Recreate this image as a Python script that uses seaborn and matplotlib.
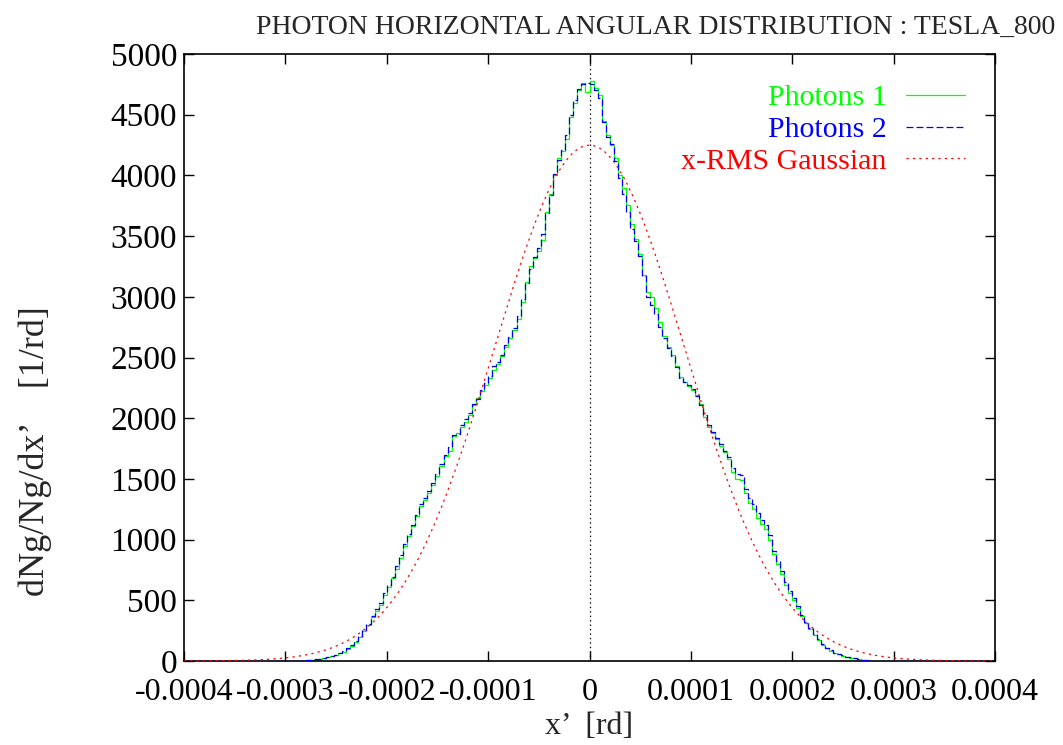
import numpy as np
import pandas as pd
import seaborn as sns
import matplotlib
matplotlib.use("Agg")
import matplotlib.pyplot as plt

# ---- data -------------------------------------------------------------
bin_width = 4e-6          # histogram bin width [rd]
x_min, x_max = -0.0004, 0.0004
n_tail = 25               # empty bins on each side, |x'| > 0.0003

# photon density per bin, bins from -0.0003 to 0.0003 (150 bins)
photons1 = [
    0, 0, 1, 2, 3, 5, 8, 12, 18, 24,
    30, 40, 49, 62, 78, 100, 125, 160, 200, 245,
    295, 360, 410, 460, 540, 610, 680, 760, 850, 945,
    1030, 1110, 1195, 1280, 1330, 1385, 1450, 1520, 1610, 1690,
    1730, 1850, 1880, 1925, 1970, 2030, 2110, 2170, 2220, 2270,
    2330, 2400, 2450, 2510, 2590, 2660, 2730, 2820, 2960, 3120,
    3250, 3320, 3380, 3470, 3700, 3850, 4000, 4140, 4200, 4300,
    4480, 4600, 4700, 4760, 4690,
    4780, 4720, 4660, 4450, 4330, 4250, 4140, 4000, 3900, 3760,
    3600, 3480, 3350, 3180, 3040, 3000, 2910, 2790, 2680, 2590,
    2520, 2430, 2340, 2300, 2265, 2235, 2190, 2120, 2010, 1930,
    1880, 1830, 1770, 1720, 1660, 1560, 1500, 1490, 1380, 1300,
    1250, 1180, 1130, 1090, 1000, 880, 800, 720, 630, 560,
    500, 440, 370, 310, 260, 215, 170, 132, 105, 85,
    68, 55, 44, 36, 28, 22, 16, 11, 7, 4,
    3, 2, 1, 0, 0,
]
photons2 = [
    0, 0, 1, 2, 4, 6, 9, 13, 19, 26,
    33, 42, 52, 66, 82, 105, 132, 168, 210, 255,
    305, 370, 425, 480, 560, 625, 690, 780, 870, 960,
    1045, 1120, 1200, 1290, 1345, 1400, 1470, 1540, 1620, 1700,
    1760, 1860, 1870, 1940, 1990, 2040, 2120, 2160, 2230, 2290,
    2350, 2430, 2460, 2520, 2600, 2670, 2740, 2840, 2980, 3110,
    3230, 3330, 3400, 3520, 3690, 3840, 4010, 4130, 4210, 4330,
    4500, 4620, 4710, 4750, 4760,
    4750, 4700, 4640, 4440, 4320, 4260, 4120, 3980, 3850, 3700,
    3560, 3460, 3340, 3170, 3000, 2930, 2860, 2750, 2660, 2580,
    2510, 2420, 2330, 2300, 2270, 2240, 2180, 2110, 2030, 1940,
    1890, 1840, 1790, 1730, 1680, 1590, 1540, 1530, 1420, 1340,
    1290, 1220, 1160, 1120, 1040, 910, 820, 740, 650, 575,
    515, 450, 380, 320, 270, 222, 178, 138, 110, 88,
    70, 57, 46, 37, 29, 22, 16, 11, 7, 4,
    3, 2, 1, 0, 0,
]

# Gaussian with the same rms, normalised to unit area
gauss_rms = 9.39e-5

x_ticks = [-0.0004, -0.0003, -0.0002, -0.0001, 0, 0.0001, 0.0002, 0.0003, 0.0004]
x_tick_labels = ["-0.0004", "-0.0003", "-0.0002", "-0.0001", "0",
                 "0.0001", "0.0002", "0.0003", "0.0004"]
y_ticks = [0, 500, 1000, 1500, 2000, 2500, 3000, 3500, 4000, 4500, 5000]

series_names = ["Photons 1", "Photons 2", "x-RMS Gaussian"]
title = "PHOTON HORIZONTAL ANGULAR DISTRIBUTION : TESLA_800"
x_label = "x\u2019  [rd]"
y_label = "dNg/Ng/dx\u2019    [1/rd]"

# ---- build frames -----------------------------------------------------
tail = [0] * n_tail
n_bins = 2 * n_tail + len(photons1)
centers = x_min + bin_width * (np.arange(n_bins) + 0.5)
hist = pd.DataFrame({
    "x": centers,
    "p1": tail + photons1 + tail,
    "p2": tail + photons2 + tail,
})
xg = np.linspace(x_min, x_max, 801)
gauss = pd.DataFrame({
    "x": xg,
    "g": np.exp(-0.5 * (xg / gauss_rms) ** 2) / (np.sqrt(2 * np.pi) * gauss_rms),
})

# ---- style ------------------------------------------------------------
sns.set_theme(style="ticks")
plt.rcParams["font.family"] = ["Liberation Serif", "DejaVu Serif"]
plt.rcParams["lines.scale_dashes"] = False
fs_xtick = 23
fs_ytick = 24
fs_leg = 21.5
fs_lab = 23
fs_ylab = 26
fs_title = 20

fig = plt.figure(figsize=(10.63, 7.45), dpi=100)
ax = fig.add_axes([184 / 1063, 1 - 661 / 745, (995 - 184) / 1063, (661 - 54) / 745])

ax.axvline(0, color="black", lw=0.9, ls=(0, (1.0, 2.2)), zorder=1)

sns.lineplot(data=hist, x="x", y="p1", ax=ax, color="#00ff00", lw=0.9,
             drawstyle="steps-mid", estimator=None, label=series_names[0], zorder=2)
sns.lineplot(data=hist, x="x", y="p2", ax=ax, color="#0000ff", lw=0.9,
             drawstyle="steps-mid", estimator=None, label=series_names[1],
             linestyle=(0, (5.0, 2.2)), zorder=3)
sns.lineplot(data=gauss, x="x", y="g", ax=ax, color="#ff0000", lw=0.9,
             estimator=None, label=series_names[2],
             linestyle=(0, (1.6, 3.0)), zorder=4)

ax.set_xlim(x_min, x_max)
ax.set_ylim(0, 5000)
ax.set_xticks(x_ticks)
ax.set_xticklabels(x_tick_labels)
ax.set_yticks(y_ticks)
ax.set_yticklabels([str(v) for v in y_ticks])
ax.tick_params(direction="in", length=7, width=1.0, top=True, right=True,
               colors="black")
ax.tick_params(axis="x", pad=12, labelsize=fs_xtick)
ax.tick_params(axis="y", pad=5, labelsize=fs_ytick)
for s in ax.spines.values():
    s.set_visible(True)
    s.set_linewidth(1.2)
    s.set_color("black")

ax.set_xlabel(x_label, fontsize=fs_lab)
ax.set_ylabel(y_label, fontsize=fs_ylab)
ax.xaxis.set_label_coords(0.5, (661 - 727) / 607)
ax.xaxis.label.set_va("center")
ax.yaxis.set_label_coords((35 - 184) / 811, (661 - 451) / 607)
ax.yaxis.label.set_va("center")

leg = ax.legend(loc="upper right", frameon=False, markerfirst=False,
                labelcolor="linecolor", fontsize=fs_leg, handlelength=1.95,
                handletextpad=0.66, labelspacing=0.16, borderaxespad=0.62,
                borderpad=0.4)

fig.text(656 / 1063, 1 - 27 / 745, title, ha="center", va="center", fontsize=fs_title)

fig.savefig("out.png", dpi=100)
